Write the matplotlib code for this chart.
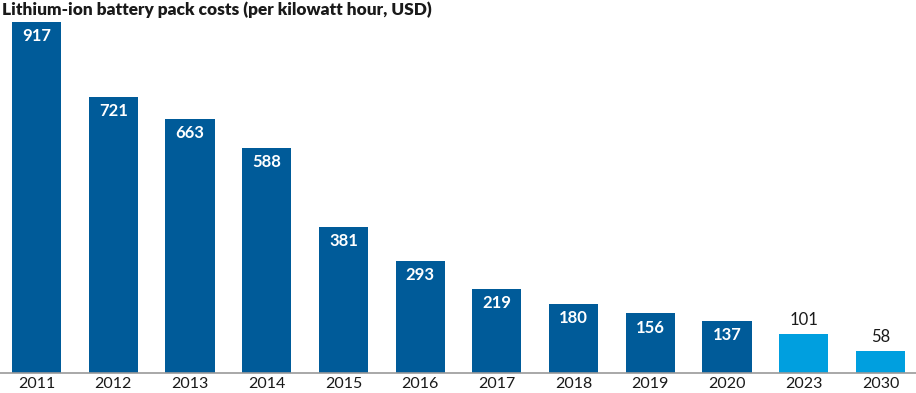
import numpy as np
import matplotlib.pyplot as plt

years = ['2011', '2012', '2013', '2014', '2015', '2016', '2017', '2018',
         '2019', '2020', '2023', '2030']
costs = [917, 721, 663, 588, 381, 293, 219, 180, 156, 137, 101, 58]
forecast = [False] * 10 + [True] * 2

dark_blue = '#005B99'
light_blue = '#009FDF'

plt.rcParams['font.family'] = ['Lato', 'DejaVu Sans']

fig = plt.figure(figsize=(9.16, 3.93), dpi=100)
ax = fig.add_axes([0, 20 / 393, 1, 353 / 393])

x = np.arange(len(years))
colors = [light_blue if f else dark_blue for f in forecast]
bars = ax.bar(x, costs, width=0.64, color=colors, zorder=2)

px_per_unit = 351 / 917
for xi, val, f in zip(x, costs, forecast):
    if f:
        ax.annotate(str(val), (xi, val), xytext=(0, 4.5), textcoords='offset points',
                    ha='center', va='bottom', fontsize=12, color='#1a1a1a')
    else:
        ax.annotate(str(val), (xi, val), xytext=(0, -4.5), textcoords='offset points',
                    ha='center', va='top', fontsize=12, color='white', fontweight='bold')

ax.set_xlim(-0.476, 11.463)
ax.set_ylim(0, 353 / px_per_unit)
ax.set_xticks(x)
ax.set_xticklabels(years, fontsize=11.5, color='#1a1a1a')
ax.tick_params(axis='x', length=0, pad=3)
ax.set_yticks([])
for side in ['top', 'right', 'left']:
    ax.spines[side].set_visible(False)
ax.spines['bottom'].set_color('#999999')
ax.spines['bottom'].set_linewidth(1.2)

fig.text(0.002, 1 - 10 / 393, 'Lithium-ion battery pack costs (per kilowatt hour, USD)',
         ha='left', va='center', fontsize=12.4, fontweight='heavy', color='#1a1a1a')

fig.savefig('out.png', dpi=100)
